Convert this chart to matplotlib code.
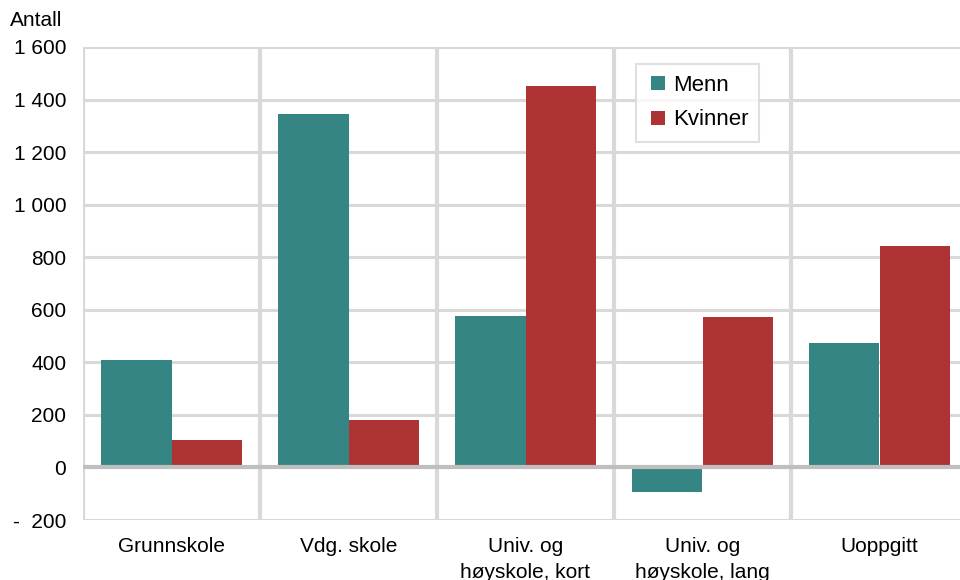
import matplotlib
matplotlib.use("Agg")
import matplotlib.pyplot as plt
import numpy as np
from matplotlib.ticker import FuncFormatter
from matplotlib.lines import Line2D

plt.rcParams['font.family'] = ['Liberation Sans', 'DejaVu Sans']

categories = ["Grunnskole", "Vdg. skole", "Univ. og\nhøyskole, kort", "Univ. og\nhøyskole, lang", "Uoppgitt"]
menn = [410, 1345, 578, -95, 475]
kvinner = [105, 180, 1450, 572, 842]
series_names = ["Menn", "Kvinner"]
colors = ["#358585", "#ad3334"]

fig = plt.figure(figsize=(9.6, 5.8), dpi=100)
ax = fig.add_axes([83/960, (580-520)/580, (968-83)/960, (520-47)/580])

x = np.arange(len(categories))
w = 0.4
ax.bar(x - w/2, menn, w, color=colors[0], label=series_names[0], zorder=3)
ax.bar(x + w/2, kvinner, w, color=colors[1], label=series_names[1], zorder=3)

ax.set_xlim(-0.5, len(categories) - 0.5)
ax.set_ylim(-200, 1600)
ax.set_yticks(np.arange(-200, 1601, 200))

def fmt(v, pos):
    v = int(round(v))
    s = f"{abs(v):,}".replace(",", " ")
    return f"-  {s}" if v < 0 else s
ax.yaxis.set_major_formatter(FuncFormatter(fmt))

grid_c = "#d9d9d9"
for yv in np.arange(-200, 1601, 200):
    if yv == 0:
        continue
    ax.axhline(yv, color=grid_c, lw=2.2, zorder=1)
ax.axhline(0, color="#bfbfbf", lw=3, zorder=4)
for b in np.arange(-0.5, len(categories), 1.0):
    ax.axvline(b, color=grid_c, lw=3, zorder=1)

for s in ax.spines.values():
    s.set_visible(False)

ax.set_xticks(x)
ax.set_xticklabels(categories, fontsize=15, linespacing=1.5, va='top')
ax.tick_params(axis='x', length=0, pad=12)
ax.tick_params(axis='y', length=0, pad=12, labelsize=15)

fig.text(10/960, 1 - 21/580, "Antall", fontsize=15, va='center', ha='left')

handles = [Line2D([], [], linestyle='none', marker='s', markersize=9.4,
                  markerfacecolor=c, markeredgewidth=0) for c in colors]
leg = ax.legend(handles, series_names, loc='upper left',
                bbox_to_anchor=((636-83)/885, (520-64)/473),
                fontsize=16, frameon=True, fancybox=False, handlelength=1.0,
                handletextpad=0.15, borderpad=0.5, labelspacing=0.6,
                borderaxespad=0)
leg.get_frame().set_edgecolor("#d9d9d9")
leg.get_frame().set_linewidth(1.5)
leg.set_zorder(5)

fig.savefig("out.png", dpi=100)
